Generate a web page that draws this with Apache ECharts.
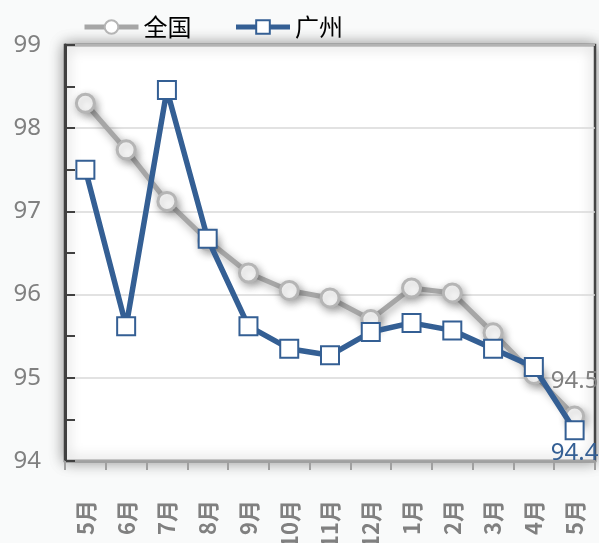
<!DOCTYPE html>
<html>
<head>
<meta charset="utf-8">
<script src="https://cdn.jsdelivr.net/npm/echarts@6/dist/echarts.min.js"></script>
<style>
  html, body { margin: 0; padding: 0; background: #f9fafa; }
  #main { width: 599px; height: 543px; }
</style>
</head>
<body>
<div id="main"></div>
<script>
// 月份
var months = ['5月', '6月', '7月', '8月', '9月', '10月', '11月', '12月', '1月', '2月', '3月', '4月', '5月'];
// 全国
var national = [98.3, 97.74, 97.12, 96.65, 96.26, 96.05, 95.96, 95.7, 96.08, 96.02, 95.54, 95.04, 94.54];
// 广州
var guangzhou = [97.5, 95.62, 98.46, 96.67, 95.62, 95.35, 95.27, 95.55, 95.66, 95.57, 95.35, 95.13, 94.37];

var myChart = echarts.init(document.getElementById('main'));

// 最后一个点显示数值
function lastLabel(arr, color, pos, dist) {
    return arr.map(function (v, i) {
        if (i < arr.length - 1) return v;
        return {
            value: v,
            label: {
                show: true,
                position: pos,
                distance: dist,
                color: color,
                fontSize: 24,
                fontFamily: 'Noto Sans',
                formatter: function (p) { return p.value.toFixed(1); }
            }
        };
    });
}

var option = {
    backgroundColor: '#f9fafa',
    animation: false,
    legend: {
        left: 77,
        top: 10,
        itemWidth: 54,
        itemHeight: 17,
        itemGap: 42,
        lineStyle: { width: 5 },
        textStyle: { color: '#000', fontSize: 24, fontFamily: 'Noto Sans CJK SC' },
        data: ['全国', '广州']
    },
    grid: {
        left: 65,
        top: 45,
        right: 4,
        bottom: 82,
        outerBoundsMode: 'none',
        containLabel: false,
        show: true,
        backgroundColor: '#fff',
        borderWidth: 2.5,
        borderColor: '#454545',
        shadowBlur: 14,
        shadowColor: 'rgba(0,0,0,0.4)',
        shadowOffsetX: 0,
        shadowOffsetY: 0
    },
    xAxis: {
        type: 'category',
        data: months,
        boundaryGap: true,
        axisLine: { lineStyle: { color: '#a0a0a0', width: 2.5 } },
        axisTick: { show: true, length: 9, lineStyle: { color: '#a0a0a0', width: 2 } },
        axisLabel: {
            rotate: 90,
            margin: 39,
            color: '#808080',
            fontSize: 22,
            fontWeight: 'bold',
            fontFamily: 'Noto Sans CJK SC',
            interval: 0
        }
    },
    yAxis: {
        type: 'value',
        min: 94,
        max: 99,
        interval: 1,
        axisLine: { show: true, lineStyle: { color: '#404040', width: 3 } },
        axisTick: { show: true, inside: true, length: 10, lineStyle: { color: '#404040', width: 2 } },
        minorTick: { show: true, splitNumber: 2, length: 10, lineStyle: { color: '#404040', width: 2 } },
        axisLabel: { color: '#808080', fontSize: 24, margin: 24, fontFamily: 'Noto Sans' },
        splitLine: { show: true, lineStyle: { color: '#d9d9d9', width: 1.5 } }
    },
    series: [
        {
            name: '全国',
            type: 'line',
            data: lastLabel(national, '#808080', 'top', 12),
            symbol: 'circle',
            symbolSize: 18,
            z: 2,
            lineStyle: {
                color: '#a6a6a6', width: 5,
                shadowBlur: 8, shadowColor: 'rgba(0,0,0,0.35)', shadowOffsetX: 2, shadowOffsetY: 3
            },
            itemStyle: {
                color: '#fff', borderColor: '#b5b5b5', borderWidth: 3,
                shadowBlur: 8, shadowColor: 'rgba(0,0,0,0.3)', shadowOffsetX: 2, shadowOffsetY: 3
            }
        },
        {
            name: '广州',
            type: 'line',
            data: lastLabel(guangzhou, '#345f94', 'bottom', 1),
            symbol: 'rect',
            symbolSize: 18,
            z: 3,
            lineStyle: { color: '#345f94', width: 5.5 },
            itemStyle: { color: '#fff', borderColor: '#345f94', borderWidth: 2 }
        }
    ]
};

myChart.setOption(option);
</script>
</body>
</html>
